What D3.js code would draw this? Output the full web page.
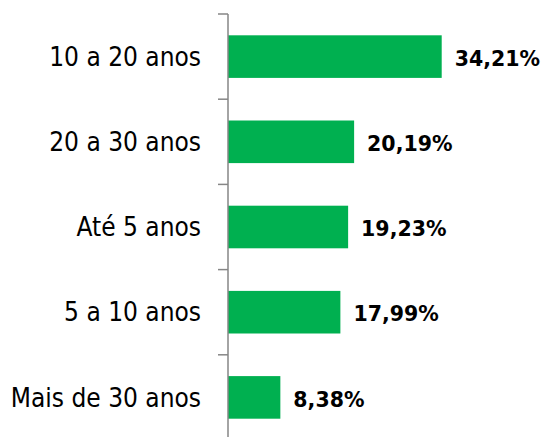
<!DOCTYPE html>
<html>
<head>
<meta charset="utf-8">
<script src="https://cdn.jsdelivr.net/npm/d3@7"></script>
<style>
  body { margin: 0; background: #fff; }
  text { font-family: "DejaVu Sans", Verdana, sans-serif; }
</style>
</head>
<body>
<div id="chart"></div>
<script>
const categories = ['10 a 20 anos', '20 a 30 anos', 'Até 5 anos', '5 a 10 anos', 'Mais de 30 anos']
const values = [34.21, 20.19, 19.23, 17.99, 8.38]

const width = 546, height = 437
const axisX = 228

const svg = d3.select('#chart')
  .append('svg')
  .attr('width', width)
  .attr('height', height)

const y = d3.scaleBand()
  .domain(categories)
  .range([14, 440])
  .paddingInner(0.5)
  .paddingOuter(0.25)

const x = d3.scaleLinear()
  .domain([0, 34.21])
  .range([axisX, 441.7])

// bars
svg.append('g')
  .selectAll('rect')
  .data(values)
  .enter()
  .append('rect')
  .attr('x', x(0))
  .attr('y', (d, i) => y(categories[i]))
  .attr('width', d => x(d) - x(0))
  .attr('height', y.bandwidth())
  .style('fill', '#00b050')

// value labels
const fmt = d => d.toFixed(2).replace('.', ',') + '%'
svg.append('g')
  .selectAll('text')
  .data(values)
  .enter()
  .append('text')
  .attr('x', d => x(d) + 13)
  .attr('y', (d, i) => y(categories[i]) + y.bandwidth() / 2 + 2)
  .attr('dy', '0.35em')
  .style('font-size', '20.5px')
  .style('font-weight', 'bold')
  .text(fmt)

// category axis
const step = y.step()
const ticks = d3.range(categories.length + 1).map(i => 14 + i * step)
const axis = svg.append('g')
axis.append('line')
  .attr('x1', axisX).attr('x2', axisX)
  .attr('y1', 14).attr('y2', height)
  .attr('stroke', '#868686')
  .attr('stroke-width', 1.5)
axis.selectAll('.tick')
  .data(ticks)
  .enter()
  .append('line')
  .attr('x1', axisX - 10).attr('x2', axisX)
  .attr('y1', d => d).attr('y2', d => d)
  .attr('stroke', '#868686')
  .attr('stroke-width', 1.5)

axis.selectAll('.label')
  .data(categories)
  .enter()
  .append('text')
  .attr('x', axisX - 27)
  .attr('y', d => y(d) + y.bandwidth() / 2)
  .attr('dy', '0.35em')
  .attr('text-anchor', 'end')
  .style('font-family', '"DejaVu Sans Condensed", "DejaVu Sans", sans-serif')
  .style('font-stretch', 'condensed')
  .style('font-size', '26px')
  .text(d => d)
</script>
</body>
</html>
